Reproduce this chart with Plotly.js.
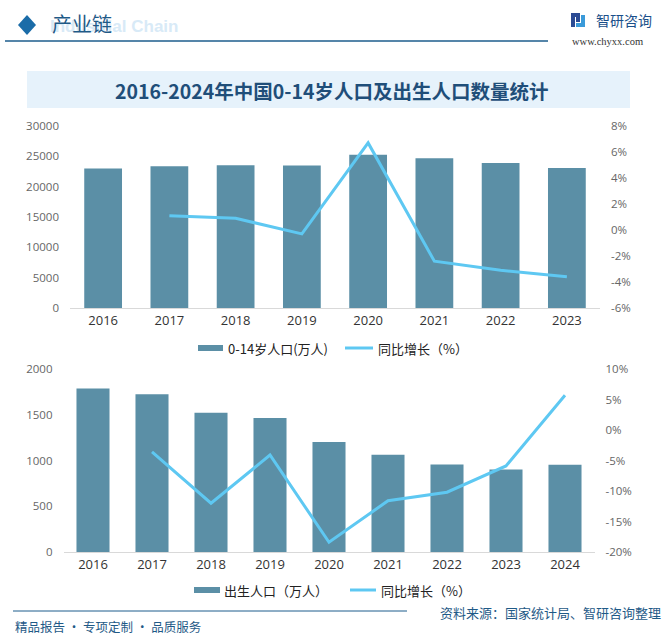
<!DOCTYPE html>
<html><head><meta charset="utf-8">
<script src="https://cdn.plot.ly/plotly-3.0.1.min.js"></script>
<style>html,body{margin:0;padding:0;background:#fff}#c{width:666px;height:639px}</style>
</head><body><div id="c"></div>
<script>
const yearsTop = ['2016','2017','2018','2019','2020','2021','2022','2023'];
const popChild = [23008, 23348, 23523, 23492, 25277, 24678, 23908, 23063];
const yoyChildYears = ['2017','2018','2019','2020','2021','2022','2023'];
const yoyChild = [1.1, 0.9, -0.3, 6.7, -2.4, -3.1, -3.6];

const yearsBot = ['2016','2017','2018','2019','2020','2021','2022','2023','2024'];
const births = [1786, 1723, 1523, 1465, 1202, 1062, 956, 902, 954];
const yoyBirthYears = ['2017','2018','2019','2020','2021','2022','2023','2024'];
const yoyBirth = [-3.6, -12.0, -4.1, -18.4, -11.6, -10.2, -5.9, 5.7];

const topTicksL = [0,5000,10000,15000,20000,25000,30000];
const topTicksR = [-6,-4,-2,0,2,4,6,8];
const botTicksL = [0,500,1000,1500,2000];
const botTicksR = [-20,-15,-10,-5,0,5,10];

const barColor = '#5b8fa6';
const lineColor = '#5ec8f2';
const tickFont = {family:'"Open Sans", "Noto Sans CJK SC", sans-serif', size:11.5, color:'#666'};
const xFont = {family:'"Open Sans", "Noto Sans CJK SC", sans-serif', size:13, color:'#333'};

const data = [
  {type:'bar', x:yearsTop, y:popChild, name:'0-14岁人口(万人)', marker:{color:barColor}, width:0.57, xaxis:'x', yaxis:'y', showlegend:false},
  {type:'scatter', mode:'lines', x:yoyChildYears, y:yoyChild, name:'同比增长（%）', line:{color:lineColor, width:3}, xaxis:'x', yaxis:'y2', showlegend:false},
  {type:'bar', x:yearsBot, y:births, name:'出生人口（万人）', marker:{color:barColor}, width:0.56, xaxis:'x2', yaxis:'y3', showlegend:false},
  {type:'scatter', mode:'lines', x:yoyBirthYears, y:yoyBirth, name:'同比增长（%）', line:{color:lineColor, width:3}, xaxis:'x2', yaxis:'y4', showlegend:false}
];

const F = v => 1 - v/639;
const X = v => v/666;
const ann = (x,y,text,font,xa) => ({xref:'paper', yref:'paper', x:X(x), y:F(y), text, showarrow:false, xanchor:xa||'left', yanchor:'middle', font});
const legText = {family:'"Noto Sans CJK SC", sans-serif', size:13, color:'#222'};

const layout = {
  width:666, height:639, margin:{l:0,r:0,t:0,b:0},
  paper_bgcolor:'#fff', plot_bgcolor:'rgba(0,0,0,0)',
  showlegend:false,
  xaxis:{domain:[X(70),X(600)], anchor:'y', type:'category', showgrid:false, showline:true, linecolor:'#d9d9d9', linewidth:1, ticks:'', tickfont:xFont},
  yaxis:{domain:[F(308),F(126)], range:[0,30000], tickvals:topTicksL, ticktext:topTicksL.map(String), showgrid:false, zeroline:false, tickfont:tickFont, ticks:'', ticklabelstandoff:10},
  yaxis2:{domain:[F(308),F(126)], overlaying:'y', side:'right', range:[-6,8], tickvals:topTicksR, ticktext:topTicksR.map(v=>v+'%'), showgrid:false, zeroline:false, tickfont:tickFont, ticks:'', anchor:'x', ticklabelstandoff:10},
  xaxis2:{domain:[X(63.5),X(594.5)], anchor:'y3', type:'category', showgrid:false, showline:true, linecolor:'#d9d9d9', linewidth:1, ticks:'', tickfont:xFont},
  yaxis3:{domain:[F(552),F(369)], anchor:'x2', range:[0,2000], tickvals:botTicksL, ticktext:botTicksL.map(String), showgrid:false, zeroline:false, tickfont:tickFont, ticks:'', ticklabelstandoff:10},
  yaxis4:{domain:[F(552),F(369)], anchor:'x2', overlaying:'y3', side:'right', range:[-20,10], tickvals:botTicksR, ticktext:botTicksR.map(v=>v+'%'), showgrid:false, zeroline:false, tickfont:tickFont, ticks:'', ticklabelstandoff:10},
  shapes:[
    {type:'path', xref:'paper', yref:'paper', path:'M '+X(18)+' '+F(25)+' L '+X(27)+' '+F(15)+' L '+X(36)+' '+F(25)+' L '+X(27)+' '+F(35)+' Z', fillcolor:'#1b6ca8', line:{width:0}},
    {type:'line', xref:'paper', yref:'paper', x0:X(5), x1:X(548), y0:F(41), y1:F(41), line:{color:'#1c5c8c', width:1.5}},
    {type:'rect', xref:'paper', yref:'paper', x0:X(571), x1:X(580), y0:F(17), y1:F(13), fillcolor:'#2b4b94', line:{width:0}},
    {type:'rect', xref:'paper', yref:'paper', x0:X(571), x1:X(575), y0:F(27), y1:F(13), fillcolor:'#2b4b94', line:{width:0}},
    {type:'rect', xref:'paper', yref:'paper', x0:X(576), x1:X(580), y0:F(22), y1:F(13), fillcolor:'#2b4b94', line:{width:0}},
    {type:'rect', xref:'paper', yref:'paper', x0:X(581), x1:X(585), y0:F(27), y1:F(15), fillcolor:'#3a9ad9', line:{width:0}},
    {type:'rect', xref:'paper', yref:'paper', x0:X(576), x1:X(585), y0:F(27), y1:F(23), fillcolor:'#3a9ad9', line:{width:0}},
    {type:'rect', xref:'paper', yref:'paper', x0:X(27), x1:X(630), y0:F(108), y1:F(71), fillcolor:'#e6f2fb', line:{width:0}, layer:'below'},
    {type:'rect', xref:'paper', yref:'paper', x0:X(198), x1:X(223), y0:F(351), y1:F(345), fillcolor:barColor, line:{width:0}},
    {type:'line', xref:'paper', yref:'paper', x0:X(345), x1:X(373), y0:F(348), y1:F(348), line:{color:lineColor, width:3}},
    {type:'rect', xref:'paper', yref:'paper', x0:X(194), x1:X(220), y0:F(593), y1:F(587), fillcolor:barColor, line:{width:0}},
    {type:'line', xref:'paper', yref:'paper', x0:X(350), x1:X(376), y0:F(590), y1:F(590), line:{color:lineColor, width:3}},
    {type:'line', xref:'paper', yref:'paper', x0:X(13), x1:X(407), y0:F(611), y1:F(611), line:{color:'#1c5c8c', width:1}}
  ],
  annotations:[
    ann(48,26,'<b>Industrial Chain</b>',{family:'Arial, sans-serif', size:17, color:'#d8eaf7'}),
    ann(50,24,'产业链',{family:'"Noto Sans CJK SC", sans-serif', size:20, color:'#1f5a87'}),
    ann(594,20,'智研咨询',{family:'"Noto Sans CJK SC", sans-serif', size:14, color:'#1a4f8a'}),
    ann(570,41,'www.chyxx.com',{family:'"Liberation Serif", serif', size:10.5, color:'#333'}),
    ann(332,90,'<b>2016-2024年中国0-14岁人口及出生人口数量统计</b>',{family:'"Noto Sans CJK SC", sans-serif', size:19.5, color:'#1f4e79'},'center'),
    ann(226,348,'0-14岁人口(万人)',legText),
    ann(376,348,'同比增长（%）',legText),
    ann(222,590,'出生人口（万人）',legText),
    ann(379,590,'同比增长（%）',legText),
    ann(13,626,'精品报告 · 专项定制 · 品质服务',{family:'"Noto Sans CJK SC", sans-serif', size:12.5, color:'#1f5a87'}),
    ann(663,612,'资料来源：国家统计局、智研咨询整理',{family:'"Noto Sans CJK SC", sans-serif', size:13, color:'#1f5a87'},'right')
  ]
};
Plotly.newPlot('c', data, layout, {displayModeBar:false, staticPlot:true});
</script></body></html>
